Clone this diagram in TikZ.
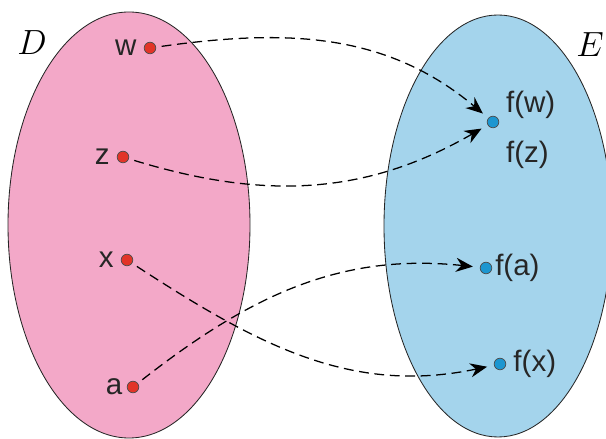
\documentclass[tikz,border=0pt]{standalone}
\usepackage{fontspec}
\setsansfont{Liberation Sans}
\usepackage{xcolor}
\usetikzlibrary{arrows.meta,positioning}

\definecolor{setpink}{RGB}{243,168,200}
\definecolor{setblue}{RGB}{164,212,236}
\definecolor{ptred}{RGB}{226,52,40}
\definecolor{ptblue}{RGB}{28,150,208}

\begin{document}
\begin{tikzpicture}[
    x=0.025cm, y=0.025cm,
    setD/.style={draw=black!85, line width=0.6pt, fill=setpink},
    setE/.style={draw=black!85, line width=0.6pt, fill=setblue},
    dotD/.style={circle, draw=black!70, line width=0.5pt, fill=ptred, minimum size=0.29cm, inner sep=0pt},
    dotE/.style={circle, draw=black!70, line width=0.5pt, fill=ptblue, minimum size=0.29cm, inner sep=0pt},
    lbl/.style={inner sep=0pt, font=\fontsize{21}{23}\selectfont\sffamily, text=black!85},
    setname/.style={inner sep=0pt, font=\fontsize{23}{24}\selectfont},
    maparrow/.style={-{Stealth[length=12pt,width=10pt]}, dash pattern=on 7pt off 4pt, line width=0.9pt, shorten <=4pt, shorten >=5pt},
]
\useasboundingbox (0,0) rectangle (606,439);
\clip (0,0) rectangle (606,439);

% the two sets
\draw[setD] (129,214) ellipse [x radius=121, y radius=213];
\draw[setE] (498,213) ellipse [x radius=114, y radius=211];
\node[setname] (D) at (32,396) {$D$};
\node[setname] (E) at (590,394) {$E$};

% points of D
\node[dotD] (w) at (150,391) {};
\node[dotD] (z) at (123,282) {};
\node[dotD] (x) at (127,179) {};
\node[dotD] (a) at (133,52) {};
\node[lbl, left=5pt of w] (wl) {w};
\node[lbl, left=5pt of z] (zl) {z};
\node[lbl, left=5pt of x] (xl) {x};
\node[lbl, left=3pt of a] (al) {a};

% points of E
\node[dotE] (fw) at (493,317) {};
\node[dotE] (fa) at (486,171) {};
\node[dotE] (fx) at (500,75) {};
\node[lbl, above right=-1pt and 6pt of fw] (fwl) {f(w)};
\node[lbl, below right=10pt and 6pt of fw] (fzl) {f(z)};
\node[lbl, right=2pt of fa] (fal) {f(a)};
\node[lbl, right=5pt of fx] (fxl) {f(x)};

% the map
\draw[maparrow] (w) to[out=8, in=140] (fw);
\draw[maparrow] (z) to[out=-17, in=-150] (fw);
\draw[maparrow] (x) to[out=-33, in=-168] (fx);
\draw[maparrow] (a) to[out=38, in=174] (fa);
\end{tikzpicture}
\end{document}
